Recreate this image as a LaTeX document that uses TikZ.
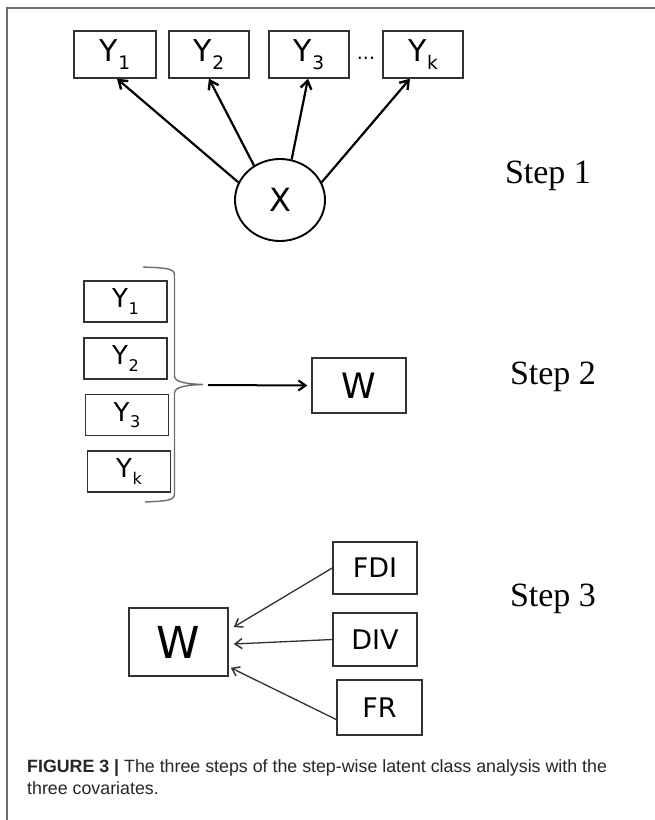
\documentclass[tikz,border=0pt]{standalone}
\usepackage{fontspec}
\setmainfont{Liberation Serif}
\newfontfamily\boxfont{DejaVu Sans}
\newfontfamily\capfont{Liberation Sans}
\usetikzlibrary{arrows.meta,calc,shapes.geometric}
\definecolor{framegray}{RGB}{110,110,110}
\definecolor{boxgray}{RGB}{50,50,50}
\newcommand{\ysb}[1]{Y\kern0.5pt\raisebox{-0.25em}{\scalebox{0.62}{#1}}}
\tikzset{
  ybox/.style={draw=boxgray, line width=1.4bp, inner sep=0pt, font=\boxfont\fontsize{30bp}{33bp}\selectfont},
  ybox2/.style={draw=boxgray, line width=1.4bp, inner sep=0pt, font=\boxfont\fontsize{26bp}{29bp}\selectfont, minimum width=83bp, minimum height=41bp},
  cbox/.style={draw=boxgray, line width=1.6bp, inner sep=0pt, font=\boxfont\fontsize{27bp}{30bp}\selectfont},
  steplabel/.style={font=\fontsize{34bp}{36bp}\selectfont, inner sep=0pt},
  bigarrow/.style={line width=2.2bp, black, -{Straight Barb[length=8bp,width=11bp,line width=2.4bp]}},
  thinarrow/.style={line width=1.3bp, boxgray, -{Straight Barb[length=7bp,width=10bp,line width=1.5bp]}},
}
\begin{document}
\begin{tikzpicture}[x=1bp,y=-1bp]
\useasboundingbox (0,0) rectangle (655,820);
\fill[white] (0,0) rectangle (655,820);
% frame
\draw[framegray, line width=1.5bp] (7,820) -- (7,8) -- (655,8);

% ---------- Step 1 ----------
\node[ybox, minimum width=82bp, minimum height=47bp] (a1) at (115,54.5) {\ysb{1}};
\node[ybox, minimum width=80bp, minimum height=47bp] (a2) at (209,54.5) {\ysb{2}};
\node[ybox, minimum width=80bp, minimum height=47bp] (a3) at (309,54.5) {\ysb{3}};
\node[ybox, minimum width=80bp, minimum height=47bp] (ak) at (423,54.5) {\ysb{k}};
\node[font=\boxfont\fontsize{19bp}{20bp}\selectfont, inner sep=0pt] (dots) at (366,58) {...};
\node[ellipse, draw=black, line width=1.9bp, minimum width=90bp, minimum height=82bp, inner sep=0pt,
      font=\boxfont\fontsize{32bp}{34bp}\selectfont] (X) at (280,200) {X};
\draw[bigarrow] (X.157) -- ($(a1.south)+(2,0)$);
\draw[bigarrow] (X.127) -- (a2.south);
\draw[bigarrow] (X.74) -- ($(a3.south)+(-1,0)$);
\draw[bigarrow] (X.23) -- ($(ak.south west)!0.34!(ak.south east)$);
\node[steplabel] (s1) at (548,176) {Step 1};

% ---------- Step 2 ----------
\node[ybox2] (b1) at (125.5,301.5) {\ysb{1}};
\node[ybox2] (b2) at (125.5,358.5) {\ysb{2}};
\node[ybox2] (b3) at (127,415) {\ysb{3}};
\node[ybox2] (bk) at (129,471.5) {\ysb{k}};
\draw[framegray, line width=1.4bp]
  (143,267) .. controls (165,268) and (174.5,268) .. (174.5,275)
  -- (174.5,376) .. controls (174.5,383) and (190,384) .. (203,384.5)
  .. controls (190,385) and (174.5,386) .. (174.5,393)
  -- (174.5,494) .. controls (174.5,501) and (165,501) .. (145,502);
\coordinate (tip) at (208,385);
\node[draw=boxgray, line width=1.4bp, minimum width=94bp, minimum height=55bp, inner sep=0pt,
      font=\boxfont\fontsize{35bp}{38bp}\selectfont] (w2) at (359,385.5) {W};
\draw[line width=2bp, black, -{Straight Barb[length=7bp,width=10bp,line width=2.2bp]}] (tip) -- ($(w2.west)+(-4,0)$);
\node[steplabel] (s2) at (553,377) {Step 2};

% ---------- Step 3 ----------
\node[draw=boxgray, line width=1.6bp, minimum width=99bp, minimum height=68bp, inner sep=0pt,
      font=\boxfont\fontsize{44bp}{46bp}\selectfont] (w3) at (178.5,642) {W};
\node[cbox, minimum width=84bp, minimum height=52bp] (fdi) at (375,568) {FDI};
\node[cbox, minimum width=84bp, minimum height=53bp] (div) at (375,639.5) {DIV};
\node[cbox, minimum width=85bp, minimum height=55bp] (fr) at (379.5,707.5) {FR};
\draw[thinarrow] (fdi.west) -- ($(w3.east)+(5,-15)$);
\draw[thinarrow] (div.west) -- ($(w3.east)+(5,2)$);
\draw[thinarrow] ($(fr.west)+(0,12)$) -- ($(w3.south east)+(2,-9)$);
\node[steplabel] (s3) at (553,599) {Step 3};

% ---------- Caption ----------
\node[anchor=north west, align=left, inner sep=0pt, font=\capfont\fontsize{17.8bp}{22bp}\selectfont, text=black!85] (cap) at (27,759)
  {\textbf{FIGURE 3 |} The three steps of the step-wise latent class analysis with the\\three covariates.};
\end{tikzpicture}
\end{document}
